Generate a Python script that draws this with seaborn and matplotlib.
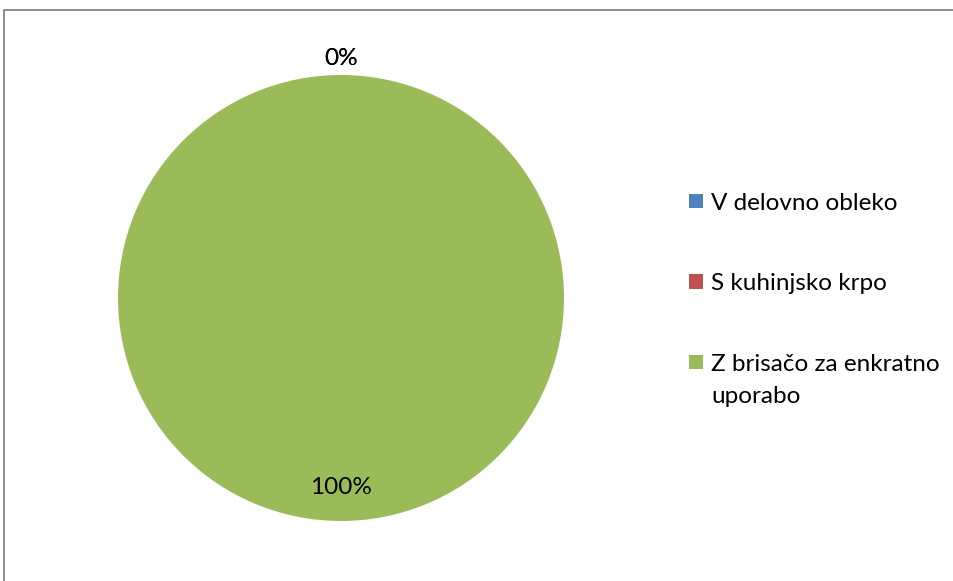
import matplotlib
matplotlib.use("Agg")
import matplotlib.pyplot as plt
import matplotlib.patches as mpatches
import numpy as np
import seaborn as sns

# Data
categories = ["V delovno obleko", "S kuhinjsko krpo", "Z brisačo za enkratno\nuporabo"]
shares = [0, 0, 100]
slice_colors = ["#4F81BD", "#C0504D", "#9BBB59"]

sns.set_theme(style="white")
plt.rcParams["font.family"] = ["Lato", "DejaVu Sans"]

W, H = 954, 581
FS = 17.5
fig = plt.figure(figsize=(W / 100, H / 100), dpi=100)
fig.patch.set_facecolor("white")

# Outer chart frame (open at the right and bottom edges)
frame = mpatches.Rectangle((4 / W, -0.05), 1.1, (H - 10) / H + 0.05,
                           transform=fig.transFigure, fill=False,
                           edgecolor="#868686", linewidth=1.3, clip_on=False)
fig.patches.append(frame)

# Pie axes: centre (341, 298) px, radius 223 px
cx, cy, r = 341, 298, 223
ax = fig.add_axes([(cx - r) / W, 1 - (cy + r) / H, 2 * r / W, 2 * r / H])
palette = sns.color_palette(slice_colors)
wedges, _ = ax.pie(shares, colors=palette, startangle=90, counterclock=False,
                   wedgeprops=dict(linewidth=0))
ax.set_xlim(-1, 1)
ax.set_ylim(-1, 1)
ax.set_aspect("equal")
ax.axis("off")

# Percentage labels; zero-width slices share one spot at the top
total = sum(shares)
placed = set()
for w, v in zip(wedges, shares):
    mid = np.deg2rad((w.theta1 + w.theta2) / 2)
    pct = 100 * v / total
    dist = 1.075 if pct == 0 else 0.85
    x, y = dist * np.cos(mid), dist * np.sin(mid)
    key = (round(x, 3), round(y, 3))
    if key in placed:
        continue
    placed.add(key)
    ax.text(x, y, f"{pct:.0f}%", ha="center", va="center",
            fontsize=FS, color="black", clip_on=False)

# Legend: square key aligned with the first line of each label
def fx(px):
    return px / W

def fy(px):
    return 1 - px / H

row0, step, key = 201, 80.5, 14.5
for i, (label, color) in enumerate(zip(categories, palette)):
    yc = row0 + step * i
    fig.patches.append(mpatches.Rectangle(
        (fx(689), fy(yc + key / 2)), key / W, key / H,
        transform=fig.transFigure, facecolor=color, edgecolor="none"))
    fig.text(fx(711), fy(yc - 8), label, ha="left", va="top",
             fontsize=FS, color="black", linespacing=1.65)

fig.savefig("out.png", dpi=100, facecolor="white")
